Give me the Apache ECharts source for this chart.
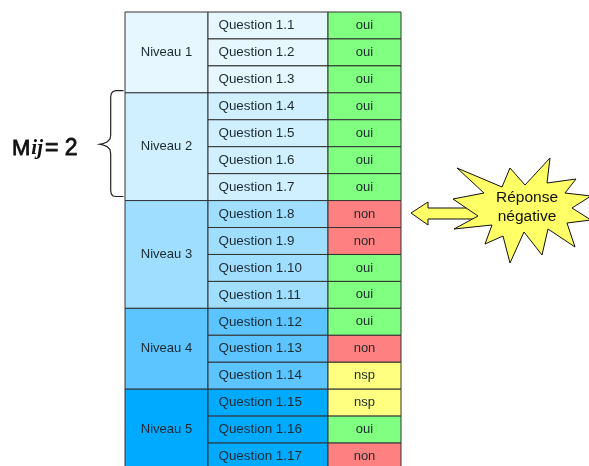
<!DOCTYPE html>
<html>
<head>
<meta charset="utf-8">
<title>Niveaux</title>
<script src="https://cdn.jsdelivr.net/npm/echarts@6/dist/echarts.min.js"></script>
<style>
  html, body { margin: 0; padding: 0; background: #fff; }
  #main { width: 589px; height: 466px; }
</style>
</head>
<body>
<div id="main"></div>
<script>
// data
var levels = ["Niveau 1", "Niveau 2", "Niveau 3", "Niveau 4", "Niveau 5"];
var levelRows = [3, 4, 4, 3, 3];
var questions = ["Question 1.1", "Question 1.2", "Question 1.3", "Question 1.4", "Question 1.5", "Question 1.6",
  "Question 1.7", "Question 1.8", "Question 1.9", "Question 1.10", "Question 1.11", "Question 1.12",
  "Question 1.13", "Question 1.14", "Question 1.15", "Question 1.16", "Question 1.17"];
var answers = ["oui", "oui", "oui", "oui", "oui", "oui", "oui", "non", "non", "oui", "oui", "oui", "non", "nsp", "nsp", "oui", "non"];

// styles
var levelColors = ["#e6f7ff", "#d0efff", "#a0deff", "#5cc4ff", "#00aaff"];
var answerColors = { oui: "#80ff80", non: "#ff8080", nsp: "#ffff80" };
var colEdges = [0, 83, 203, 276];
var font = "Liberation Sans";

// one cell per entry: [col, rowStart, rowEnd, label, fill]
var cells = [];
var row = 0;
levels.forEach(function (name, i) {
  cells.push([0, row, row + levelRows[i], name, levelColors[i]]);
  for (var k = 0; k < levelRows[i]; k++) {
    var r = row + k;
    cells.push([1, r, r + 1, questions[r], levelColors[i]]);
    cells.push([2, r, r + 1, answers[r], answerColors[answers[r]]]);
  }
  row += levelRows[i];
});

function renderCell(params, api) {
  var col = api.value(0);
  var a = api.coord([colEdges[col], api.value(1)]);
  var b = api.coord([colEdges[col + 1], api.value(2)]);
  var left = col === 1;
  return {
    type: "group",
    children: [
      {
        type: "rect",
        shape: { x: a[0], y: a[1], width: b[0] - a[0], height: b[1] - a[1] },
        style: { fill: cells[params.dataIndex][4], stroke: "#333", lineWidth: 1 }
      },
      {
        type: "text",
        style: {
          x: left ? a[0] + 10.5 : (a[0] + b[0]) / 2,
          y: (a[1] + b[1]) / 2,
          text: cells[params.dataIndex][3],
          fill: "#1c2a30",
          font: (left ? "13.4px '" : "13px '") + font + "'",
          align: left ? "left" : "center",
          verticalAlign: "middle"
        }
      }
    ]
  };
}

var star = [[457, 168], [502, 187], [510, 168], [525, 185], [550, 158], [547, 183], [576, 179], [565, 193], [591, 196],
  [572, 208], [591, 220], [567, 223], [575, 247], [548, 229], [542, 255], [524, 232], [510, 263], [503, 236],
  [485, 244], [492, 225], [454, 229], [478, 216], [453, 199], [484, 193]];
var arrow = [[411, 213], [428, 202], [428, 208], [480, 208], [480, 219], [428, 219], [428, 225]];
var brace = [[123.5, 90.7], [116, 90.7], [113, 91.5], [111.3, 93.5], [110.7, 97], [110.7, 135], [110, 139], [107, 142],
  [103, 143.6], [99.5, 144.3], [103, 145], [107, 146.6], [110, 149.5], [110.7, 154], [110.7, 190.5], [111.3, 194],
  [113, 196], [116, 196.5], [123.5, 196.5]];

var myChart = echarts.init(document.getElementById("main"));
myChart.setOption({
  animation: false,
  grid: { left: 125, top: 12, width: 276, height: 458, outerBoundsMode: "none" },
  xAxis: { type: "value", min: 0, max: 276, show: false },
  yAxis: { type: "value", min: 0, max: 17, inverse: true, show: false },
  series: [
    {
      type: "custom",
      clip: false,
      silent: true,
      renderItem: renderCell,
      encode: { x: 0, y: [1, 2] },
      data: cells.map(function (c) { return c.slice(0, 3); })
    }
  ],
  graphic: [
    { type: "polygon", shape: { points: arrow }, style: { fill: "#ffff66", stroke: "#111", lineWidth: 1 } },
    { type: "polygon", shape: { points: star }, style: { fill: "#ffff66", stroke: "#111", lineWidth: 1 } },
    {
      type: "text",
      x: 527,
      y: 207,
      style: {
        text: "Réponse\nnégative",
        font: "15.5px '" + font + "'",
        lineHeight: 19.5,
        fill: "#111",
        align: "center",
        verticalAlign: "middle"
      }
    },
    {
      type: "polyline",
      shape: { points: brace },
      style: { fill: "none", stroke: "#222", lineWidth: 1.2 }
    },
    {
      type: "text",
      x: 12,
      y: 149,
      style: {
        text: "{m|M}{ij|ij}{r|= 2}",
        verticalAlign: "middle",
        rich: {
          m: { font: "22px '" + font + "'", fill: "#111", stroke: "#111", lineWidth: 0.8 },
          ij: { font: "italic bold 21px 'Liberation Serif'", fill: "#111", padding: [0, 2, 0, 1] },
          r: { font: "23px '" + font + "'", fill: "#111", stroke: "#111", lineWidth: 0.8 }
        }
      }
    }
  ]
});
</script>
</body>
</html>
